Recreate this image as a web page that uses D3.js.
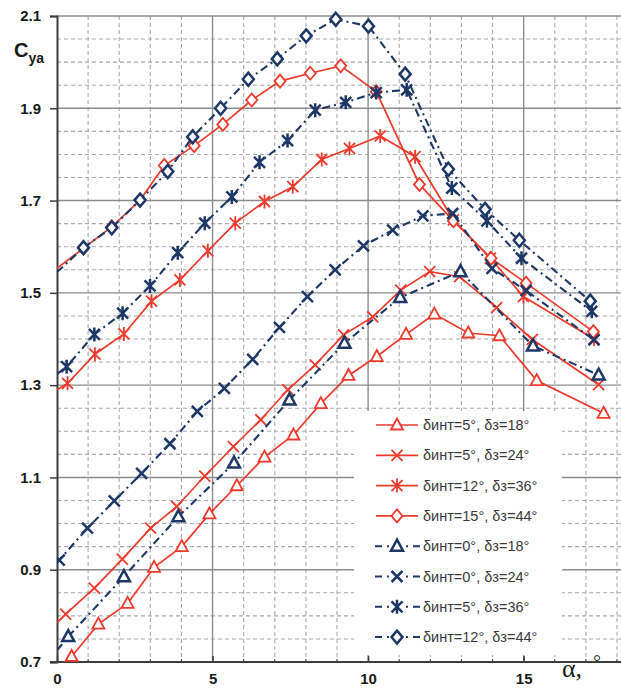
<!DOCTYPE html>
<html>
<head>
<meta charset="utf-8">
<script src="https://cdn.jsdelivr.net/npm/d3@7"></script>
<style>
  body { margin: 0; background: #fff; }
  svg { display: block; }
</style>
</head>
<body>
<svg id="chart" width="621" height="691"></svg>
<script>
// Lift coefficient Cya versus angle of attack α for eight flap settings.

const seriesLabels = [
  "δинт=5°, δз=18°",
  "δинт=5°, δз=24°",
  "δинт=12°, δз=36°",
  "δинт=15°, δз=44°",
  "δинт=0°, δз=18°",
  "δинт=0°, δз=24°",
  "δинт=5°, δз=36°",
  "δинт=12°, δз=44°"
];

// α, degrees
const alphaInt5Z18 = [0.47, 1.33, 2.27, 3.12, 4.01, 4.90, 5.78, 6.67, 7.60, 8.48, 9.37, 10.28, 11.22, 12.13, 13.22, 14.22, 15.42, 17.57];
const cyaInt5Z18   = [0.712, 0.782, 0.827, 0.905, 0.950, 1.021, 1.082, 1.144, 1.192, 1.260, 1.321, 1.362, 1.410, 1.454, 1.413, 1.407, 1.310, 1.239];

const alphaInt5Z24 = [0.28, 1.20, 2.10, 3.01, 3.85, 4.75, 5.67, 6.55, 7.42, 8.30, 9.21, 10.15, 11.05, 11.98, 12.94, 14.13, 15.28, 17.41];
const cyaInt5Z24   = [0.804, 0.860, 0.923, 0.990, 1.037, 1.103, 1.167, 1.225, 1.290, 1.344, 1.409, 1.448, 1.506, 1.546, 1.535, 1.468, 1.399, 1.301];

const alphaInt12Z36 = [0.34, 1.22, 2.15, 3.04, 3.95, 4.85, 5.73, 6.67, 7.58, 8.51, 9.40, 10.39, 11.51, 12.74, 13.93, 14.99, 17.26];
const cyaInt12Z36   = [1.304, 1.367, 1.411, 1.482, 1.528, 1.591, 1.651, 1.698, 1.730, 1.789, 1.813, 1.840, 1.795, 1.658, 1.575, 1.492, 1.400];

const alphaInt15Z44 = [0.85, 1.76, 2.67, 3.45, 4.41, 5.33, 6.26, 7.17, 8.14, 9.12, 10.26, 11.65, 12.74, 13.95, 15.08, 17.24];
const cyaInt15Z44   = [1.597, 1.643, 1.701, 1.776, 1.819, 1.865, 1.918, 1.959, 1.976, 1.992, 1.936, 1.735, 1.656, 1.575, 1.521, 1.416];

const alphaInt0Z18 = [0.36, 2.15, 3.90, 5.69, 7.47, 9.24, 11.03, 12.97, 15.30, 17.41];
const cyaInt0Z18   = [0.755, 0.885, 1.015, 1.131, 1.268, 1.391, 1.490, 1.546, 1.385, 1.322];

const alphaInt0Z24 = [0.07, 0.98, 1.84, 2.72, 3.63, 4.51, 5.38, 6.29, 7.15, 8.05, 8.94, 9.85, 10.79, 11.76, 12.72, 13.98, 15.08, 17.26];
const cyaInt0Z24   = [0.921, 0.990, 1.049, 1.109, 1.173, 1.243, 1.293, 1.356, 1.425, 1.492, 1.550, 1.602, 1.636, 1.667, 1.672, 1.553, 1.505, 1.398];

const alphaInt5Z36 = [0.31, 1.20, 2.11, 2.99, 3.88, 4.75, 5.62, 6.51, 7.41, 8.30, 9.28, 10.26, 11.24, 12.69, 13.82, 14.93, 17.19];
const cyaInt5Z36   = [1.340, 1.410, 1.456, 1.515, 1.587, 1.651, 1.708, 1.783, 1.830, 1.896, 1.913, 1.934, 1.940, 1.727, 1.656, 1.575, 1.460];

const alphaInt12Z44 = [0.85, 1.76, 2.67, 3.56, 4.36, 5.26, 6.15, 7.08, 8.01, 8.96, 10.01, 11.19, 12.58, 13.76, 14.86, 17.14];
const cyaInt12Z44   = [1.598, 1.641, 1.701, 1.763, 1.838, 1.900, 1.963, 2.007, 2.057, 2.093, 2.078, 1.974, 1.768, 1.681, 1.614, 1.482];

// Each curve is carried on to the Cya axis (α = 0) without a marker there.
const cyaAtZero = [0.674, 0.785, 1.290, 1.553, 0.725, 0.915, 1.324, 1.545];

const xTicks = [0, 5, 10, 15];
const yTicks = [0.7, 0.9, 1.1, 1.3, 1.5, 1.7, 1.9, 2.1];

// ---- styling ----
const RED = "#ee3a2c";
const NAVY = "#1d3766";
const seriesColor = [RED, RED, RED, RED, NAVY, NAVY, NAVY, NAVY];
const seriesShape = ["triangle", "cross", "star", "diamond", "triangle", "cross", "star", "diamond"];
const seriesDashed = [false, false, false, false, true, true, true, true];
const DASH = "8,4,2,4";

const seriesData = [
  [alphaInt5Z18, cyaInt5Z18],
  [alphaInt5Z24, cyaInt5Z24],
  [alphaInt12Z36, cyaInt12Z36],
  [alphaInt15Z44, cyaInt15Z44],
  [alphaInt0Z18, cyaInt0Z18],
  [alphaInt0Z24, cyaInt0Z24],
  [alphaInt5Z36, cyaInt5Z36],
  [alphaInt12Z44, cyaInt12Z44]
].map(([a, c]) => a.map((v, i) => ({ a: v, c: c[i] })));

const W = 621, H = 691;
const svg = d3.select("#chart");

const x = d3.scaleLinear().domain([0, 18]).range([57, 617]);
const y = d3.scaleLinear().domain([0.7, 2.1]).range([662, 16]);
const xRight = W;

// ---- grid ----
const grid = svg.append("g");
const minorX = d3.range(1, 19).filter(v => v % 5 !== 0);
grid.selectAll("line.mx").data(minorX).join("line")
  .attr("x1", d => x(d)).attr("x2", d => x(d))
  .attr("y1", y(2.1)).attr("y2", y(0.7))
  .attr("stroke", "#a9a9a9").attr("stroke-width", 1.1)
  .attr("stroke-dasharray", "4,3");
const minorY = d3.range(15, 42).filter(k => (k - 14) % 4 !== 0).map(k => k * 0.05);
grid.selectAll("line.my").data(minorY).join("line")
  .attr("x1", x(0)).attr("x2", xRight)
  .attr("y1", d => y(d)).attr("y2", d => y(d))
  .attr("stroke", "#a9a9a9").attr("stroke-width", 1.1)
  .attr("stroke-dasharray", "4,3");
grid.selectAll("line.Mx").data([5, 10, 15]).join("line")
  .attr("x1", d => x(d)).attr("x2", d => x(d))
  .attr("y1", y(2.1)).attr("y2", y(0.7))
  .attr("stroke", "#8c8c8c").attr("stroke-width", 1.4);
grid.selectAll("line.My").data(yTicks.slice(1)).join("line")
  .attr("x1", x(0)).attr("x2", xRight)
  .attr("y1", d => y(d)).attr("y2", d => y(d))
  .attr("stroke", "#8c8c8c").attr("stroke-width", 1.4);

// ---- axes ----
const axisFont = "'Liberation Sans', Arial, sans-serif";
const yAxis = svg.append("g").attr("transform", `translate(${x(0)},0)`)
  .call(d3.axisLeft(y).tickValues(yTicks).tickSize(7).tickPadding(9)
    .tickFormat(d3.format(".1f")));
yAxis.select(".domain").attr("stroke", "#3d3d3d").attr("stroke-width", 2);
yAxis.selectAll(".tick line").attr("stroke", "#3d3d3d").attr("stroke-width", 1.5);
yAxis.selectAll(".tick text").attr("font-family", axisFont).attr("font-size", 15)
  .attr("font-weight", "bold").attr("fill", "#1a1a1a");

const xAxis = svg.append("g").attr("transform", `translate(0,${y(0.7)})`)
  .call(d3.axisBottom(x).tickValues(xTicks).tickSizeInner(-6).tickSizeOuter(0).tickPadding(17)
    .tickFormat(d3.format("d")));
xAxis.select(".domain").attr("stroke", "#3d3d3d").attr("stroke-width", 2)
  .attr("d", `M${x(0) - 7},0H${xRight}`);
xAxis.selectAll(".tick line").attr("stroke", "#3d3d3d").attr("stroke-width", 1.5);
xAxis.selectAll(".tick text").attr("font-family", axisFont).attr("font-size", 15)
  .attr("font-weight", "bold").attr("fill", "#1a1a1a").attr("dy", "0.35em");
// short inner ticks at each degree
xAxis.selectAll("line.minor").data(minorX).join("line")
  .attr("x1", d => x(d)).attr("x2", d => x(d)).attr("y1", 0).attr("y2", -3)
  .attr("stroke", "#3d3d3d").attr("stroke-width", 1);

// axis titles
const cTitle = svg.append("text").attr("x", 14).attr("y", 57)
  .attr("font-family", axisFont).attr("font-weight", "bold").attr("fill", "#1a1a1a");
cTitle.append("tspan").attr("font-size", 20).text("C");
cTitle.append("tspan").attr("font-size", 14).attr("dy", 6).text("ya");

const aTitle = svg.append("text").attr("x", 562).attr("y", 677)
  .attr("font-family", "'Liberation Serif', 'Times New Roman', serif").attr("fill", "#1a1a1a");
aTitle.append("tspan").attr("font-size", 26).text("α,");
aTitle.append("tspan").attr("font-size", 19).attr("dx", 11).attr("dy", -9).text("°");

// ---- series ----
svg.append("clipPath").attr("id", "plotClip").append("rect")
  .attr("x", x(0)).attr("y", y(2.1) - 8).attr("width", xRight - x(0)).attr("height", y(0.7) - y(2.1) + 8);

function shapePath(shape) {
  switch (shape) {
    case "triangle": return "M0,-6.5L6,4.5L-6,4.5Z";
    case "cross": return "M-5.5,-5.5L5.5,5.5M-5.5,5.5L5.5,-5.5";
    case "star": return "M-5.5,-5.5L5.5,5.5M-5.5,5.5L5.5,-5.5M0,-7L0,7";
    case "diamond": return "M0,-6.5L5.5,0L0,6.5L-5.5,0Z";
  }
}

function drawMarker(sel, i) {
  const blue = seriesDashed[i];
  sel.append("path").attr("d", shapePath(seriesShape[i]))
    .attr("fill", seriesShape[i] === "triangle" || seriesShape[i] === "diamond" ? "#fff" : "none")
    .attr("stroke", seriesColor[i])
    .attr("stroke-width", blue ? 2.5 : 1.8)
    .attr("stroke-linejoin", "miter");
}

const line = d3.line().x(d => x(d.a)).y(d => y(d.c));
const plot = svg.append("g").attr("clip-path", "url(#plotClip)");

seriesData.forEach((pts, i) => {
  const g = plot.append("g");
  g.append("path")
    .datum([{ a: 0, c: cyaAtZero[i] }, ...pts])
    .attr("d", line)
    .attr("fill", "none")
    .attr("stroke", seriesColor[i])
    .attr("stroke-width", seriesDashed[i] ? 2.1 : 1.7)
    .attr("stroke-dasharray", seriesDashed[i] ? DASH : null);
  g.selectAll("g.m").data(pts).join("g")
    .attr("transform", d => `translate(${x(d.a)},${y(d.c)})`)
    .each(function () { drawMarker(d3.select(this), i); });
});

// ---- legend ----
const legend = svg.append("g");
legend.append("rect").attr("x", 354).attr("y", 411).attr("width", 208).attr("height", 244)
  .attr("fill", "#fff");
const rowY = d => 425 + d * 30.3;
seriesLabels.forEach((lab, i) => {
  const row = legend.append("g").attr("transform", `translate(0,${rowY(i)})`);
  if (seriesDashed[i]) {
    row.append("path").attr("d", "M375,0H382M387,0H389M406,0H408M413,0H420")
      .attr("stroke", seriesColor[i]).attr("stroke-width", 2).attr("fill", "none");
  } else {
    row.append("line").attr("x1", 376).attr("x2", 418).attr("y1", 0).attr("y2", 0)
      .attr("stroke", seriesColor[i]).attr("stroke-width", 1.7);
  }
  const m = row.append("g").attr("transform", "translate(397,0)");
  drawMarker(m, i);
  row.append("text").attr("x", 423).attr("y", 0).attr("dy", "0.35em")
    .attr("font-family", "'Liberation Sans', Arial, sans-serif").attr("font-size", 14.5)
    .attr("fill", "#3a3a3a").text(lab);
});
</script>
</body>
</html>
